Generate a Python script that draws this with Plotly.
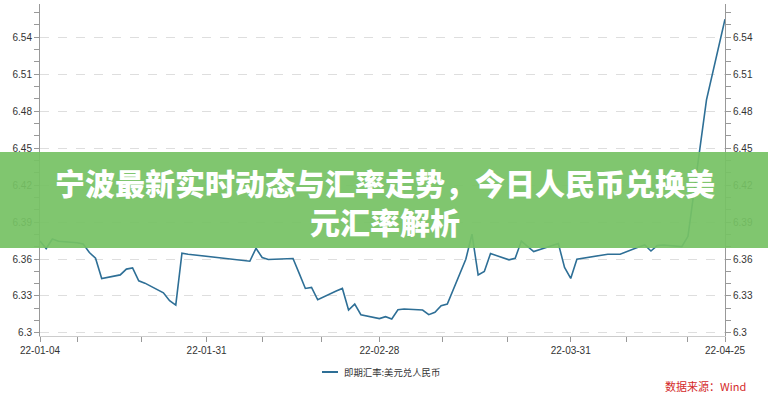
import plotly.graph_objects as go

dates = ["2022-01-04","2022-01-05","2022-01-06","2022-01-07","2022-01-10","2022-01-11","2022-01-12",
         "2022-01-13","2022-01-14","2022-01-17","2022-01-18","2022-01-19","2022-01-20","2022-01-21",
         "2022-01-24","2022-01-25","2022-01-26","2022-01-27","2022-01-28","2022-02-07","2022-02-08",
         "2022-02-09","2022-02-10","2022-02-11","2022-02-14","2022-02-15","2022-02-16","2022-02-17",
         "2022-02-18","2022-02-21","2022-02-22","2022-02-23","2022-02-24","2022-02-25","2022-02-28",
         "2022-03-01","2022-03-02","2022-03-03","2022-03-04","2022-03-07","2022-03-08","2022-03-09",
         "2022-03-10","2022-03-11","2022-03-14","2022-03-15","2022-03-16","2022-03-17","2022-03-18",
         "2022-03-21","2022-03-22","2022-03-23","2022-03-24","2022-03-25","2022-03-28","2022-03-29",
         "2022-03-30","2022-03-31","2022-04-01","2022-04-06","2022-04-07","2022-04-08","2022-04-11",
         "2022-04-12","2022-04-13","2022-04-14","2022-04-15","2022-04-18","2022-04-19","2022-04-20",
         "2022-04-21","2022-04-22","2022-04-25"]

usd_cny = [6.3746,6.3685,6.3762,6.3744,6.3732,6.3722,6.3653,
           6.3606,6.3442,6.3471,6.3518,6.3528,6.3423,6.3404,
           6.3326,6.3261,6.3226,6.3647,6.3639,6.3582,6.3687,
           6.3612,6.3596,6.3598,6.3604,6.3483,6.3361,6.3370,
           6.3269,6.3340,6.3361,6.3186,6.3234,6.3148,6.3116,
           6.3132,6.3113,6.3188,6.3194,6.3186,6.3148,6.3167,
           6.3221,6.3234,6.3598,6.3801,6.3471,6.3499,6.3644,
           6.3593,6.3606,6.3746,6.3703,6.3661,6.3709,6.3725,
           6.3531,6.3442,6.3598,6.3639,6.3639,6.3639,6.3698,
           6.3714,6.3665,6.3709,6.3714,6.3701,6.3784,6.4140,
           6.4496,6.4892,6.5547]

x_tick_dates = ["2022-01-04","2022-01-10","2022-01-20 12:00","2022-01-31","2022-02-09","2022-02-18 14:00",
                "2022-02-28","2022-03-10 07:00","2022-03-20 17:00","2022-03-31","2022-04-09","2022-04-19","2022-04-25"]
x_tick_labels = ["22-01-04","","","22-01-31","","","22-02-28","","","22-03-31","","","22-04-25"]
y_tick_vals = [6.30, 6.33, 6.36, 6.39, 6.42, 6.45, 6.48, 6.51, 6.54]
y_tick_labels = ["6.3", "6.33", "6.36", "6.39", "6.42", "6.45", "6.48", "6.51", "6.54"]

series_name = "即期汇率:美元兑人民币"
title_line1 = "宁波最新实时动态与汇率走势，今日人民币兑换美"
title_line2 = "元汇率解析"
source_text = "数据来源：Wind"

L, R, T, B = 40, 43, 4, 64
W, H = 768, 400
pw, ph = W - L - R, H - T - B

def px_x(x):
    return (x - L) / pw

def px_y(y):
    return (H - B - y) / ph

fig = go.Figure()
fig.add_trace(go.Scatter(x=dates, y=usd_cny, mode="lines", name=series_name,
                         line=dict(color="#2e6f96", width=1.6), showlegend=False))
fig.add_trace(go.Scatter(x=dates, y=usd_cny, mode="lines", yaxis="y2", hoverinfo="skip",
                         line=dict(color="rgba(0,0,0,0)", width=0), showlegend=False))

yr = [6.2975, 6.567]
tickfont = dict(family="Liberation Sans, Arial", size=10, color="#333")
common_y = dict(range=yr, tickvals=y_tick_vals, ticktext=y_tick_labels, ticks="outside",
                ticklen=5, tickcolor="#999", showline=True, linecolor="#999", linewidth=1,
                tickfont=tickfont, zeroline=False, fixedrange=True,
                minor=dict(dtick=0.01, tick0=6.3, ticks="outside", ticklen=5, tickcolor="#999", showgrid=False))

fig.update_layout(
    width=W, height=H, margin=dict(l=L, r=R, t=T, b=B),
    paper_bgcolor="white", plot_bgcolor="white",
    xaxis=dict(type="date", range=["2022-01-04", "2022-04-25"], tickvals=x_tick_dates, ticktext=x_tick_labels,
               ticks="outside", ticklen=5, tickcolor="#999", showline=True, linecolor="#ccc", linewidth=1,
               showgrid=False, tickfont=tickfont, zeroline=False),
    yaxis=dict(side="left", showgrid=True, gridcolor="#dedede", griddash="dash", gridwidth=1, **common_y),
    yaxis2=dict(side="right", overlaying="y", showgrid=False, **common_y),
)

# banner
fig.add_shape(type="rect", xref="paper", yref="paper", x0=px_x(0), x1=px_x(W), y0=px_y(248), y1=px_y(152),
              fillcolor="rgba(118,194,100,0.93)", line=dict(width=0), layer="above")
title_font = dict(family="Noto Sans CJK SC", size=30, color="white", weight=900)
fig.add_annotation(text=title_line1 + "<br>" + title_line2, xref="paper", yref="paper", x=px_x(385), y=px_y(201),
                   showarrow=False, font=title_font, xanchor="center", yanchor="middle", align="center")

# legend
fig.add_shape(type="line", xref="paper", yref="paper", x0=px_x(322), x1=px_x(338), y0=px_y(372), y1=px_y(372),
              line=dict(color="#2e6f96", width=2))
fig.add_annotation(text=series_name, xref="paper", yref="paper", x=px_x(342), y=px_y(372), showarrow=False,
                   xanchor="left", yanchor="middle",
                   font=dict(family="Noto Sans CJK SC", size=9.4, color="#333"))
# source
fig.add_annotation(text=source_text, xref="paper", yref="paper", x=px_x(748), y=px_y(386), showarrow=False,
                   xanchor="right", yanchor="middle",
                   font=dict(family="Noto Sans CJK SC", size=11, color="#d42a2a"))

fig.write_html("out.html", config={"displayModeBar": False},
               post_script="document.body.style.margin='0';document.body.style.overflow='hidden';")
